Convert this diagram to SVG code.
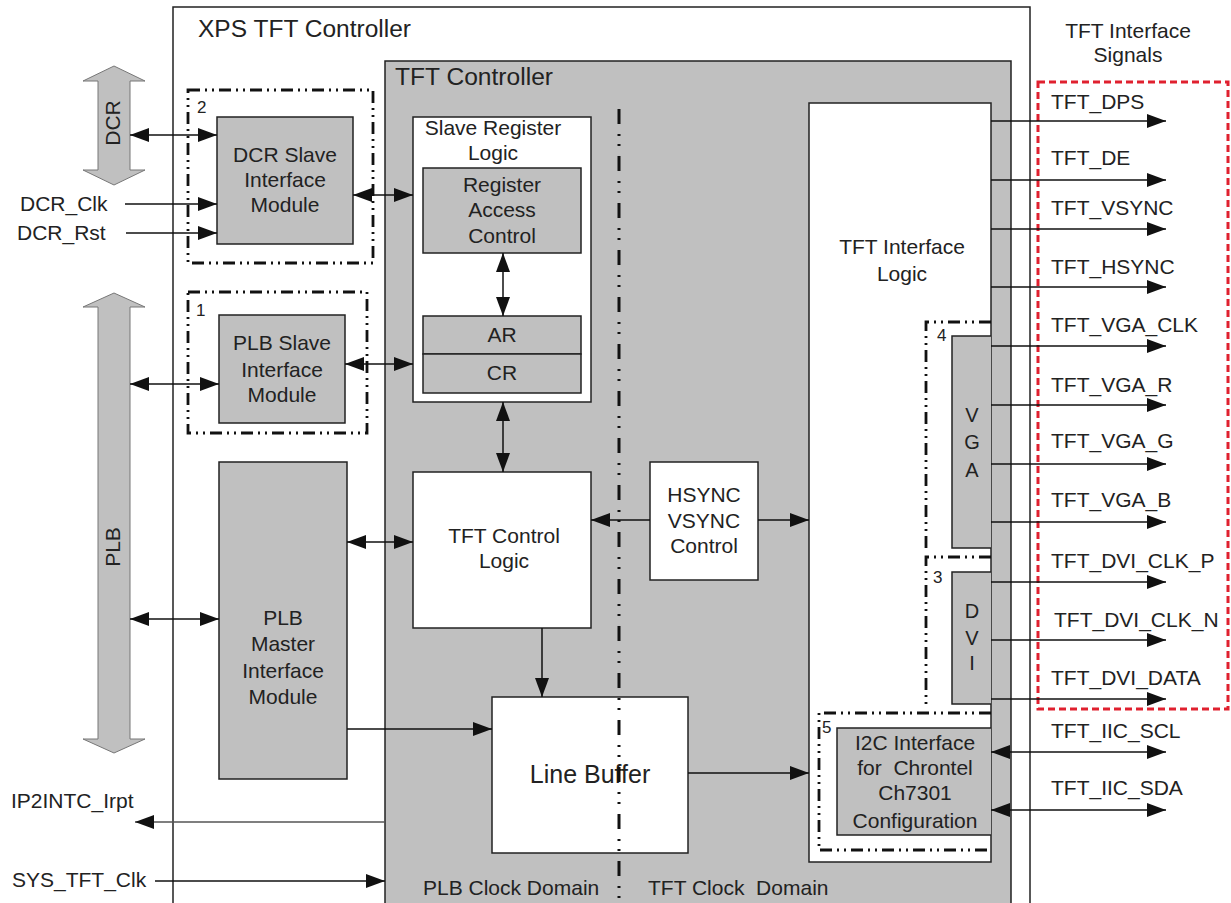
<svg xmlns="http://www.w3.org/2000/svg" width="1231" height="903" viewBox="0 0 1231 903">
<defs>
<marker id="ah" markerUnits="userSpaceOnUse" markerWidth="19" markerHeight="14" refX="19" refY="7" orient="auto-start-reverse" viewBox="0 0 19 14"><path d="M0,0 L19,7 L0,14 z" fill="#111"/></marker>
<style>
text{font-family:"Liberation Sans",Arial,sans-serif;font-size:21px;fill:#222}
.c{text-anchor:middle}
.t{font-size:23px}
.n{font-size:17px}
.box{stroke:#222;stroke-width:1.5}
.g{fill:#c0c0c0}
.w{fill:#fff}
.dd{fill:none;stroke:#111;stroke-width:2.8;stroke-dasharray:12 5 2 5 2 5}
.ln{stroke:#111;stroke-width:1.5;fill:none}
.a1{marker-end:url(#ah)}
.a2{marker-start:url(#ah);marker-end:url(#ah)}
.blk{fill:#c0c0c0;stroke:#777;stroke-width:1}
</style>
</defs>
<rect width="1231" height="903" fill="#fff"/>

<g id="xps">
<rect class="box" x="173" y="7" width="857" height="910" fill="#fff"/>
<text x="198" y="37" class="t" textLength="213" lengthAdjust="spacingAndGlyphs">XPS TFT Controller</text>
</g>

<g id="tft-controller">
<rect class="box g" x="385" y="61" width="626" height="860"/>
<text x="395" y="85" class="t" textLength="158" lengthAdjust="spacingAndGlyphs">TFT Controller</text>
</g>

<g id="dcr-bus">
<polygon class="blk" points="114,66 145,81 130,81 130,170 145,170 114,185 83,170 98,170 98,81 83,81"/>
<text x="120" y="123" class="c" transform="rotate(-90 120 123)">DCR</text>
</g>

<g id="plb-bus">
<polygon class="blk" points="114,293 145,307 130,307 130,739 145,739 114,753 83,739 98,739 98,307 83,307"/>
<text x="120" y="547" class="c" transform="rotate(-90 120 547)">PLB</text>
</g>

<g id="dcr-slave">
<rect class="dd" x="188" y="90" width="185" height="173"/>
<text x="197" y="113" class="n">2</text>
<rect class="box g" x="217" y="117" width="136" height="127"/>
<text x="285" y="162" class="c">DCR Slave</text>
<text x="285" y="187" class="c">Interface</text>
<text x="285" y="212" class="c">Module</text>
</g>

<g id="plb-slave">
<rect class="dd" x="188" y="292" width="179" height="141"/>
<text x="196" y="316" class="n">1</text>
<rect class="box g" x="219" y="315" width="126" height="108"/>
<text x="282" y="350" class="c">PLB Slave</text>
<text x="282" y="377" class="c">Interface</text>
<text x="282" y="402" class="c">Module</text>
</g>

<g id="plb-master">
<rect class="box g" x="219" y="462" width="128" height="317"/>
<text x="283" y="625" class="c">PLB</text>
<text x="283" y="651" class="c">Master</text>
<text x="283" y="678" class="c">Interface</text>
<text x="283" y="704" class="c">Module</text>
</g>

<g id="slave-register-logic">
<rect class="box w" x="413" y="117" width="178" height="285"/>
<text x="493" y="135" class="c">Slave Register</text>
<text x="493" y="160" class="c">Logic</text>
</g>

<g id="register-access-control">
<rect class="box g" x="423" y="168" width="158" height="85"/>
<text x="502" y="192" class="c">Register</text>
<text x="502" y="217" class="c">Access</text>
<text x="502" y="243" class="c">Control</text>
</g>

<g id="ar-cr">
<rect class="box g" x="423" y="316" width="158" height="38"/>
<rect class="box g" x="423" y="354" width="158" height="39"/>
<text x="502" y="342" class="c">AR</text>
<text x="502" y="380" class="c">CR</text>
</g>

<g id="tft-control-logic">
<rect class="box w" x="413" y="472" width="178" height="156"/>
<text x="504" y="543" class="c">TFT Control</text>
<text x="504" y="568" class="c">Logic</text>
</g>

<g id="hsync-vsync">
<rect class="box w" x="650" y="462" width="108" height="118"/>
<text x="704" y="502" class="c">HSYNC</text>
<text x="704" y="528" class="c">VSYNC</text>
<text x="704" y="553" class="c">Control</text>
</g>

<g id="line-buffer">
<rect class="box w" x="492" y="697" width="196" height="156"/>
<text x="590" y="783" class="c" style="font-size:25px">Line Buffer</text>
</g>

<g id="tft-interface-logic">
<rect class="box w" x="809" y="103" width="182" height="759"/>
<text x="902" y="254" class="c">TFT Interface</text>
<text x="902" y="281" class="c">Logic</text>
</g>

<g id="vga">
<polyline class="dd" points="991,322 926,322 926,552"/>
<text x="937" y="341" class="n">4</text>
<path class="box g" d="M991,336 H952 V548 H991"/>
<text x="972" y="422" class="c" style="font-size:20px">V</text>
<text x="972" y="449" class="c" style="font-size:20px">G</text>
<text x="972" y="477" class="c" style="font-size:20px">A</text>
</g>

<g id="dvi">
<polyline class="dd" points="991,557 926,557 926,707"/>
<text x="933" y="583" class="n">3</text>
<path class="box g" d="M991,572 H952 V704 H991"/>
<text x="972" y="618" class="c" style="font-size:20px">D</text>
<text x="972" y="645" class="c" style="font-size:20px">V</text>
<text x="972" y="670" class="c" style="font-size:20px">I</text>
</g>

<g id="i2c">
<polyline class="dd" points="991,713 819,713 819,850 991,850"/>
<text x="822" y="733" class="n">5</text>
<path class="box g" d="M991,728 H837 V835 H991"/>
<text x="915" y="750" class="c">I2C Interface</text>
<text x="915" y="775" class="c" xml:space="preserve">for  Chrontel</text>
<text x="915" y="800" class="c">Ch7301</text>
<text x="915" y="828" class="c">Configuration</text>
</g>

<g id="signals-group">
<rect x="1038" y="82" width="190" height="627" fill="none" stroke="#e0202f" stroke-width="3" stroke-dasharray="7 4"/>
<text x="1128" y="38" class="c">TFT Interface</text>
<text x="1128" y="62" class="c">Signals</text>
</g>

<g id="labels">
<text x="20" y="211">DCR_Clk</text>
<text x="17" y="240">DCR_Rst</text>
<text x="11" y="808">IP2INTC_Irpt</text>
<text x="12" y="887">SYS_TFT_Clk</text>
<text x="423" y="895">PLB Clock Domain</text>
<text x="648" y="895" xml:space="preserve">TFT Clock  Domain</text>
<text x="1051" y="109">TFT_DPS</text>
<text x="1051" y="165">TFT_DE</text>
<text x="1051" y="215">TFT_VSYNC</text>
<text x="1051" y="274">TFT_HSYNC</text>
<text x="1051" y="332">TFT_VGA_CLK</text>
<text x="1051" y="392">TFT_VGA_R</text>
<text x="1051" y="448">TFT_VGA_G</text>
<text x="1051" y="507">TFT_VGA_B</text>
<text x="1051" y="568">TFT_DVI_CLK_P</text>
<text x="1054" y="627">TFT_DVI_CLK_N</text>
<text x="1051" y="685">TFT_DVI_DATA</text>
<text x="1051" y="738">TFT_IIC_SCL</text>
<text x="1051" y="795">TFT_IIC_SDA</text>
</g>

<g id="connectors">
<line class="ln a2" x1="130" y1="135" x2="217" y2="135"/>
<line class="ln a1" x1="125" y1="204" x2="217" y2="204"/>
<line class="ln a1" x1="126" y1="233" x2="217" y2="233"/>
<line class="ln a2" x1="353" y1="195" x2="413" y2="195"/>
<line class="ln a2" x1="130" y1="384" x2="219" y2="384"/>
<line class="ln a2" x1="345" y1="364" x2="413" y2="364"/>
<line class="ln a2" x1="130" y1="619" x2="219" y2="619"/>
<line class="ln a2" x1="347" y1="542" x2="413" y2="542"/>
<line class="ln a2" x1="503" y1="253" x2="503" y2="316"/>
<line class="ln a2" x1="503" y1="402" x2="503" y2="472"/>
<line class="ln a1" x1="650" y1="520" x2="591" y2="520"/>
<line class="ln a1" x1="758" y1="520" x2="809" y2="520"/>
<line class="ln a1" x1="542" y1="628" x2="542" y2="697"/>
<line class="ln a1" x1="347" y1="729" x2="492" y2="729"/>
<line class="ln a1" x1="688" y1="773" x2="809" y2="773"/>
<line class="ln a1" x1="385" y1="822" x2="135" y2="822" style="stroke:#555"/>
<line class="ln a1" x1="155" y1="881" x2="385" y2="881"/>
<line class="ln a1" x1="991" y1="121" x2="1166" y2="121"/>
<line class="ln a1" x1="991" y1="180" x2="1166" y2="180"/>
<line class="ln a1" x1="991" y1="229" x2="1166" y2="229"/>
<line class="ln a1" x1="991" y1="287" x2="1166" y2="287"/>
<line class="ln a1" x1="991" y1="346" x2="1166" y2="346"/>
<line class="ln a1" x1="991" y1="405" x2="1166" y2="405"/>
<line class="ln a1" x1="991" y1="464" x2="1166" y2="464"/>
<line class="ln a1" x1="991" y1="522" x2="1166" y2="522"/>
<line class="ln a1" x1="991" y1="582" x2="1166" y2="582"/>
<line class="ln a1" x1="991" y1="640" x2="1166" y2="640"/>
<line class="ln a1" x1="991" y1="699" x2="1166" y2="699"/>
<line class="ln a2" x1="991" y1="752" x2="1166" y2="752"/>
<line class="ln a2" x1="991" y1="810" x2="1166" y2="810"/>
<line x1="619" y1="109" x2="619" y2="903" stroke="#111" stroke-width="3" stroke-dasharray="15 10 2 8 2 10"/>
</g>
</svg>
